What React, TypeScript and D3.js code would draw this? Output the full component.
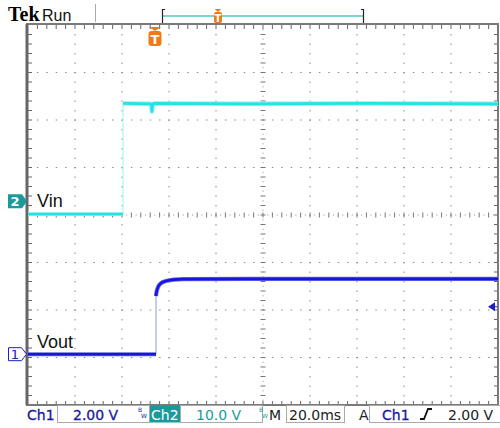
import React from 'react';
import * as d3 from 'd3';

// ---- data (time in ms relative to trigger, volts) ----
const vinLowTime = [-54.04, -13.6];
const vinLowVolts = [-2.7, -2.7];
const vinHighTime = [-13.6, -2.2, -1.6, -1.3, -1.0, -0.5, 40, 90, 145.96];
const vinHighVolts = [20.6, 20.5, 20.4, 18.9, 20.3, 20.6, 20.5, 20.6, 20.5];
const voutLowTime = [-54.04, 0.43];
const voutLowVolts = [0, 0];
const voutHighTime = [0.43, 0.6, 1.0, 1.5, 2.1, 3.0, 4.3, 6.0, 8.0, 12.0, 40, 90, 145.96];
const voutHighVolts = [2.45, 2.6, 2.75, 2.87, 2.95, 3.02, 3.07, 3.11, 3.14, 3.16, 3.17, 3.17, 3.17];

const ch1Scale = 2; // V/div
const ch2Scale = 10; // V/div
const ch1Offset = -2.93; // div
const ch2Offset = 0.29; // div
const trigLevel = 2.0; // V on ch1
const timeDomain = [-54.04, 145.96];

const bottomLabels = { ch1: 'Ch1', ch1v: '2.00 V', ch2: 'Ch2', ch2v: '10.0 V', tb: '20.0ms', trigSrc: 'Ch1', trigV: '2.00 V' };

const W = 500, H = 428;
const X0 = 28, X1 = 498, Y0 = 25, Y1 = 405;

export default function App() {
  const xDiv = d3.scaleLinear().domain([0, 10]).range([X0, X1]);
  const yDiv = d3.scaleLinear().domain([-4, 4]).range([Y1, Y0]);
  const xT = d3.scaleLinear().domain(timeDomain).range([X0, X1]);
  const y1 = (v: number) => yDiv(ch1Offset + v / ch1Scale);
  const y2 = (v: number) => yDiv(ch2Offset + v / ch2Scale);
  const line1 = d3.line<[number, number]>().x(d => xT(d[0])).y(d => y1(d[1]));
  const line2 = d3.line<[number, number]>().x(d => xT(d[0])).y(d => y2(d[1]));
  const zip = (a: number[], b: number[]) => a.map((t, i) => [t, b[i]] as [number, number]);

  const grid: React.ReactNode[] = [];
  const gc = '#8c8c8c';
  for (let k = 1; k < 10; k++) {
    if (k === 5) continue;
    for (let s = 1; s < 40; s++) {
      grid.push(<rect key={`v${k}-${s}`} x={xDiv(k) - 0.5} y={yDiv(-4 + s / 5) - 0.5} width={1} height={1.5} fill={gc} />);
    }
  }
  for (let j = 1; j < 8; j++) {
    if (j === 4) continue;
    for (let s = 1; s < 50; s++) {
      grid.push(<rect key={`h${j}-${s}`} x={xDiv(s / 5) - 0.5} y={yDiv(-4 + j) - 0.5} width={1.5} height={1} fill={gc} />);
    }
  }
  for (let s = 1; s < 100; s++) {
    const x = xDiv(s / 10);
    if (s % 2 === 0) grid.push(<line key={`cx${s}`} x1={x} x2={x} y1={yDiv(0) - 2.5} y2={yDiv(0) + 2.5} stroke="#777" strokeWidth={1} />);
    else grid.push(<rect key={`cxd${s}`} x={x - 0.5} y={yDiv(0) - 0.5} width={1} height={1} fill={gc} />);
  }
  for (let s = 1; s < 80; s++) {
    const y = yDiv(-4 + s / 10);
    if (s % 2 === 0) grid.push(<line key={`cy${s}`} x1={xDiv(5) - 2.5} x2={xDiv(5) + 2.5} y1={y} y2={y} stroke="#777" strokeWidth={1} />);
    else grid.push(<rect key={`cyd${s}`} x={xDiv(5) - 0.5} y={y - 0.5} width={1} height={1} fill={gc} />);
  }
  for (let s = 1; s < 50; s++) {
    const x = xDiv(s / 5);
    grid.push(<line key={`tt${s}`} x1={x} x2={x} y1={Y0} y2={Y0 + 4} stroke="#666" strokeWidth={1} />);
    grid.push(<line key={`bt${s}`} x1={x} x2={x} y1={Y1} y2={Y1 - 4} stroke="#666" strokeWidth={1} />);
  }
  for (let s = 1; s < 40; s++) {
    const y = yDiv(-4 + s / 5);
    grid.push(<line key={`lt${s}`} x1={X0} x2={X0 + 4} y1={y} y2={y} stroke="#666" strokeWidth={1} />);
    grid.push(<line key={`rt${s}`} x1={X1} x2={X1 - 4} y1={y} y2={y} stroke="#666" strokeWidth={1} />);
  }

  const vinLow = zip(vinLowTime, vinLowVolts);
  const vinHigh = zip(vinHighTime, vinHighVolts);
  const voutLow = zip(voutLowTime, voutLowVolts);
  const voutHigh = zip(voutHighTime, voutHighVolts);
  const vinEdge: [number, number][] = [vinLow[vinLow.length - 1], vinHigh[0]];
  const voutEdge: [number, number][] = [voutLow[voutLow.length - 1], voutHigh[0]];

  const cyan = '#22e4e4';
  const blue = '#1616dc';
  const trigX = xT(0);
  const trigY = y1(trigLevel);
  const font = "'DejaVu Sans', sans-serif";

  const g1y = y1(0);
  const g2y = y2(0);

  return (
    <svg width={W} height={H} style={{ position: 'absolute', left: 0, top: 0, background: '#fff' }}>
      <rect x={0} y={0} width={W} height={H} fill="#fff" />
      <text x={8} y={21} fontFamily="'Liberation Serif', serif" fontWeight="bold" fontSize={20} fill="#000">Tek</text>
      <text x={42} y={21} fontFamily="'Liberation Sans', sans-serif" fontSize={16} fill="#111">Run</text>
      <line x1={95.5} x2={95.5} y1={4} y2={22} stroke="#aaa" strokeWidth={1} />
      <line x1={163} x2={363} y1={16} y2={16} stroke="#7fd3d0" strokeWidth={2} />
      <path d="M165,9.5 H162.5 V23.5 H165" fill="none" stroke="#222" strokeWidth={1.2} />
      <path d="M361,9.5 H363.5 V23.5 H361" fill="none" stroke="#222" strokeWidth={1.2} />
      <g transform="translate(218,9)">
        <path d="M-3.5,0 H3.5 L0,3 Z" fill="#f07a1a" />
        <rect x={-4} y={3} width={8} height={11} rx={2} fill="#f07a1a" />
        <text x={0} y={12.5} textAnchor="middle" fontFamily={font} fontSize={10} fontWeight="bold" fill="#fff">T</text>
      </g>

      {grid}
      <rect x={X0 - 1} y={Y0 - 1} width={X1 - X0 + 1} height={Y1 - Y0 + 1} fill="none" stroke="#7a7a7a" strokeWidth={2} />
      <line x1={X0 - 1} x2={X0 - 1} y1={Y0 - 1} y2={Y1} stroke="#666" strokeWidth={3} />

      <g transform={`translate(${trigX},27)`}>
        <path d="M-6,0 H6 L0,4 Z" fill="#f07a1a" />
        <rect x={-6.5} y={4} width={13} height={15} rx={3} fill="#f07a1a" />
        <text x={0} y={16.5} textAnchor="middle" fontFamily={font} fontSize={13} fontWeight="bold" fill="#fff">T</text>
      </g>

      <path d={line2(vinEdge) || ''} fill="none" stroke="#a8f4f4" strokeWidth={1.2} />
      <path d={line2(vinLow) || ''} fill="none" stroke="#8ef0f0" strokeWidth={4} />
      <path d={line2(vinLow) || ''} fill="none" stroke={cyan} strokeWidth={2.2} />
      <path d={line2(vinHigh) || ''} fill="none" stroke="#8ef0f0" strokeWidth={4.5} strokeLinejoin="round" />
      <path d={line2(vinHigh) || ''} fill="none" stroke={cyan} strokeWidth={2.6} strokeLinejoin="round" />

      <path d={line1(voutEdge) || ''} fill="none" stroke="#b4b8f4" strokeWidth={1.5} />
      <path d={line1(voutLow) || ''} fill="none" stroke="#6a6aee" strokeWidth={4} />
      <path d={line1(voutLow) || ''} fill="none" stroke={blue} strokeWidth={2.4} />
      <path d={line1(voutHigh) || ''} fill="none" stroke="#6a6aee" strokeWidth={4.2} strokeLinejoin="miter" />
      <path d={line1(voutHigh) || ''} fill="none" stroke={blue} strokeWidth={2.6} strokeLinejoin="miter" />

      <text x={37} y={207} fontFamily="'Liberation Sans', sans-serif" fontSize={18} fill="#111">Vin</text>
      <text x={37} y={348} fontFamily="'Liberation Sans', sans-serif" fontSize={18} fill="#111">Vout</text>

      <g transform={`translate(0,${g2y})`}>
        <path d="M8,-7 H22 L27,0 L22,7 H8 Z" fill="#1a9a9a" />
        <text x={15} y={5} textAnchor="middle" fontFamily={font} fontSize={13} fontWeight="bold" fill="#fff">2</text>
      </g>
      <g transform={`translate(0,${g1y})`}>
        <path d="M8.5,-6.5 H21.5 L26.5,0 L21.5,6.5 H8.5 Z" fill="#fff" stroke="#2020c0" strokeWidth={1} />
        <text x={15} y={5} textAnchor="middle" fontFamily={font} fontSize={13} fill="#2020c0">1</text>
      </g>

      <g transform={`translate(0,${trigY})`}>
        <path d={`M${X1 - 10},0 L${X1 - 3},-4.5 L${X1 - 3},4.5 Z`} fill="#2020c0" />
        <line x1={X1 - 3} x2={X1} y1={0} y2={0} stroke="#6a6aee" strokeWidth={1.5} />
      </g>

      <g fontFamily={font} fontSize={14}>
        <text x={27} y={420} fill="#1a1a9a" stroke="#1a1a9a" strokeWidth={0.3}>{bottomLabels.ch1}</text>
        <rect x={57.5} y={405.5} width={92} height={17} fill="none" stroke="#aaa" strokeWidth={1} />
        <text x={73} y={420} fill="#1a1a9a" stroke="#1a1a9a" strokeWidth={0.3}>{bottomLabels.ch1v}</text>
        <text x={138} y={412} fontSize={6} fill="#1a1a9a">B</text>
        <text x={141} y={418} fontSize={6} fill="#1a1a9a">W</text>
        <rect x={150} y={405.5} width={30} height={17} fill="#1a9a9a" />
        <text x={151} y={420} fill="#fff">{bottomLabels.ch2}</text>
        <rect x={180.5} y={405.5} width={82} height={17} fill="none" stroke="#aaa" strokeWidth={1} />
        <text x={196} y={420} fill="#1a9a9a">{bottomLabels.ch2v}</text>
        <text x={259} y={412} fontSize={6} fill="#1a9a9a">B</text>
        <text x={262} y={418} fontSize={6} fill="#1a9a9a">W</text>
        <text x={269} y={420} fill="#222">M</text>
        <rect x={286.5} y={405.5} width={58} height={17} fill="none" stroke="#aaa" strokeWidth={1} />
        <text x={289} y={420} fill="#222">{bottomLabels.tb}</text>
        <text x={359} y={420} fill="#222">A</text>
        <rect x={369.5} y={405.5} width={131} height={17} fill="none" stroke="#aaa" strokeWidth={1} />
        <text x={382} y={420} fill="#1a1a9a" stroke="#1a1a9a" strokeWidth={0.3}>{bottomLabels.trigSrc}</text>
        <path d="M420,419 H424 L428,409 H432" fill="none" stroke="#111" strokeWidth={1.8} />
        <text x={448} y={420} fill="#222">{bottomLabels.trigV}</text>
      </g>
    </svg>
  );
}
